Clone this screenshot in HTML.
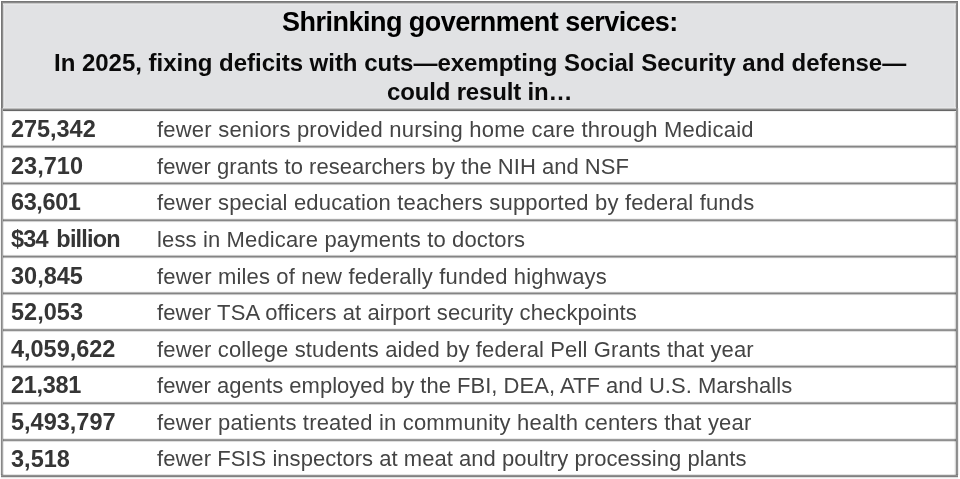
<!DOCTYPE html>
<html><head><meta charset="utf-8"><style>
html,body{margin:0;padding:0;background:#fff;width:960px;height:479px;overflow:hidden}
body{position:relative;font-family:"Liberation Sans",sans-serif}
.t{position:absolute;white-space:nowrap;line-height:normal;will-change:transform}
.c{text-align:center;width:956px}
.hd{position:absolute;left:3px;top:3px;width:953px;height:107px;background:#e1e2e4}
.ttl{font-weight:bold;color:#000}
.sub{font-weight:bold;color:#0a0a0a}
.num{font-weight:bold;color:#353535}
.dsc{color:#444444}
svg{position:absolute;left:0;top:0}
</style></head><body>

<div class="hd"></div>
<svg width="960" height="479" viewBox="0 0 960 479" shape-rendering="crispEdges"><rect x="3" y="144" width="953" height="1" fill-opacity="0.013"/><rect x="3" y="145" width="953" height="1" fill-opacity="0.202"/><rect x="3" y="146" width="953" height="1" fill-opacity="0.479"/><rect x="3" y="147" width="953" height="1" fill-opacity="0.306"/><rect x="3" y="148" width="953" height="1" fill-opacity="0.038"/><rect x="3" y="181" width="953" height="1" fill-opacity="0.028"/><rect x="3" y="182" width="953" height="1" fill-opacity="0.271"/><rect x="3" y="183" width="953" height="1" fill-opacity="0.485"/><rect x="3" y="184" width="953" height="1" fill-opacity="0.236"/><rect x="3" y="185" width="953" height="1" fill-opacity="0.019"/><rect x="3" y="218" width="953" height="1" fill-opacity="0.049"/><rect x="3" y="219" width="953" height="1" fill-opacity="0.334"/><rect x="3" y="220" width="953" height="1" fill-opacity="0.470"/><rect x="3" y="221" width="953" height="1" fill-opacity="0.175"/><rect x="3" y="222" width="953" height="1" fill-opacity="0.010"/><rect x="3" y="254" width="953" height="1" fill-opacity="0.016"/><rect x="3" y="255" width="953" height="1" fill-opacity="0.219"/><rect x="3" y="256" width="953" height="1" fill-opacity="0.483"/><rect x="3" y="257" width="953" height="1" fill-opacity="0.289"/><rect x="3" y="258" width="953" height="1" fill-opacity="0.033"/><rect x="3" y="291" width="953" height="1" fill-opacity="0.033"/><rect x="3" y="292" width="953" height="1" fill-opacity="0.289"/><rect x="3" y="293" width="953" height="1" fill-opacity="0.483"/><rect x="3" y="294" width="953" height="1" fill-opacity="0.219"/><rect x="3" y="295" width="953" height="1" fill-opacity="0.016"/><rect x="3" y="328" width="953" height="1" fill-opacity="0.078"/><rect x="3" y="329" width="953" height="1" fill-opacity="0.389"/><rect x="3" y="330" width="953" height="1" fill-opacity="0.441"/><rect x="3" y="331" width="953" height="1" fill-opacity="0.125"/><rect x="3" y="332" width="953" height="1" fill-opacity="0.005"/><rect x="3" y="364" width="953" height="1" fill-opacity="0.016"/><rect x="3" y="365" width="953" height="1" fill-opacity="0.219"/><rect x="3" y="366" width="953" height="1" fill-opacity="0.483"/><rect x="3" y="367" width="953" height="1" fill-opacity="0.289"/><rect x="3" y="368" width="953" height="1" fill-opacity="0.033"/><rect x="3" y="401" width="953" height="1" fill-opacity="0.052"/><rect x="3" y="402" width="953" height="1" fill-opacity="0.341"/><rect x="3" y="403" width="953" height="1" fill-opacity="0.468"/><rect x="3" y="404" width="953" height="1" fill-opacity="0.169"/><rect x="3" y="405" width="953" height="1" fill-opacity="0.009"/><rect x="3" y="438" width="953" height="1" fill-opacity="0.078"/><rect x="3" y="439" width="953" height="1" fill-opacity="0.389"/><rect x="3" y="440" width="953" height="1" fill-opacity="0.441"/><rect x="3" y="441" width="953" height="1" fill-opacity="0.125"/><rect x="3" y="442" width="953" height="1" fill-opacity="0.005"/><rect x="1" y="1" width="957" height="1" fill="#777777"/><rect x="1" y="2" width="957" height="1" fill="#8a8a8a"/><rect x="1" y="3" width="957" height="1" fill="#c8c8c8"/><rect x="1" y="4" width="957" height="1" fill="#e7e8e9"/><rect x="1" y="474" width="957" height="1" fill-opacity="0.106"/><rect x="1" y="475" width="957" height="1" fill-opacity="0.431"/><rect x="1" y="476" width="957" height="1" fill-opacity="0.498"/><rect x="1" y="477" width="957" height="1" fill-opacity="0.118"/><rect x="1" y="478" width="957" height="1" fill-opacity="0.027"/><rect x="0" y="108" width="1" height="367" fill-opacity="0.051"/><rect x="1" y="108" width="1" height="367" fill-opacity="0.467"/><rect x="2" y="108" width="1" height="367" fill-opacity="0.341"/><rect x="3" y="108" width="1" height="367" fill-opacity="0.090"/><rect x="954" y="108" width="1" height="367" fill-opacity="0.043"/><rect x="955" y="108" width="1" height="367" fill-opacity="0.153"/><rect x="956" y="108" width="1" height="367" fill-opacity="0.451"/><rect x="957" y="108" width="1" height="367" fill-opacity="0.431"/><rect x="958" y="108" width="1" height="367" fill-opacity="0.067"/><rect x="1" y="2" width="1" height="106" fill="#777777"/><rect x="2" y="2" width="1" height="106" fill="#8a8a8a"/><rect x="3" y="5" width="1" height="103" fill="#d0d0d1"/><rect x="4" y="5" width="1" height="103" fill="#e7e8e9"/><rect x="954" y="5" width="1" height="103" fill="#e7e8e9"/><rect x="955" y="5" width="1" height="103" fill="#d0d0d1"/><rect x="956" y="2" width="1" height="106" fill="#8a8a8a"/><rect x="957" y="2" width="1" height="106" fill="#808080"/><rect x="3" y="107" width="953" height="1" fill="#e6e7e8"/><rect x="3" y="108" width="953" height="1" fill="#c0c0c0"/><rect x="3" y="109" width="953" height="1" fill="#888888"/><rect x="3" y="110" width="953" height="1" fill="#666666"/><rect x="3" y="111" width="953" height="1" fill="#f0f0f0"/></svg>
<div class="t ttl" style="left:281.70px;top:6.76px;font-size:27px;letter-spacing:-0.516px;">Shrinking government services:</div>
<div class="t sub" style="left:53.56px;top:49.48px;font-size:24px;letter-spacing:-0.019px;">In 2025, fixing deficits with cuts—exempting Social Security and defense—</div>
<div class="t sub" style="left:387.40px;top:78.28px;font-size:24px;letter-spacing:-0.163px;">could result in…</div>
<div class="t num m" style="left:10.60px;top:116.33px;font-size:23.5px;letter-spacing:-0.038px;">275,342</div>
<div class="t dsc m" style="left:157.00px;top:117.24px;font-size:22px;letter-spacing:0.213px;">fewer seniors provided nursing home care through Medicaid</div>
<div class="t num m" style="left:10.60px;top:152.91px;font-size:23.5px;letter-spacing:0.021px;">23,710</div>
<div class="t dsc m" style="left:157.00px;top:153.82px;font-size:22px;letter-spacing:0.026px;">fewer grants to researchers by the NIH and NSF</div>
<div class="t num m" style="left:10.60px;top:189.49px;font-size:23.5px;letter-spacing:-0.391px;">63,601</div>
<div class="t dsc m" style="left:157.00px;top:190.40px;font-size:22px;letter-spacing:0.175px;">fewer special education teachers supported by federal funds</div>
<div class="t num m" style="left:10.60px;top:226.07px;font-size:23.5px;letter-spacing:-0.800px;word-spacing:2.8px">$34&nbsp;billion</div>
<div class="t dsc m" style="left:157.00px;top:226.98px;font-size:22px;letter-spacing:0.141px;">less in Medicare payments to doctors</div>
<div class="t num m" style="left:10.60px;top:262.65px;font-size:23.5px;letter-spacing:0.006px;">30,845</div>
<div class="t dsc m" style="left:157.00px;top:263.56px;font-size:22px;letter-spacing:0.164px;">fewer miles of new federally funded highways</div>
<div class="t num m" style="left:10.60px;top:299.23px;font-size:23.5px;letter-spacing:0.015px;">52,053</div>
<div class="t dsc m" style="left:157.00px;top:300.14px;font-size:22px;letter-spacing:0.101px;">fewer TSA officers at airport security checkpoints</div>
<div class="t num m" style="left:10.60px;top:335.81px;font-size:23.5px;letter-spacing:-0.018px;">4,059,622</div>
<div class="t dsc m" style="left:157.00px;top:336.72px;font-size:22px;letter-spacing:0.140px;">fewer college students aided by federal Pell Grants that year</div>
<div class="t num m" style="left:10.60px;top:372.39px;font-size:23.5px;letter-spacing:-0.327px;">21,381</div>
<div class="t dsc m" style="left:157.00px;top:373.30px;font-size:22px;letter-spacing:0.016px;">fewer agents employed by the FBI, DEA, ATF and U.S. Marshalls</div>
<div class="t num m" style="left:10.60px;top:408.97px;font-size:23.5px;letter-spacing:0.005px;">5,493,797</div>
<div class="t dsc m" style="left:157.00px;top:409.88px;font-size:22px;letter-spacing:0.186px;">fewer patients treated in community health centers that year</div>
<div class="t num m" style="left:10.60px;top:445.55px;font-size:23.5px;letter-spacing:0.019px;">3,518</div>
<div class="t dsc m" style="left:157.00px;top:446.46px;font-size:22px;letter-spacing:0.042px;">fewer FSIS inspectors at meat and poultry processing plants</div>
</body></html>
